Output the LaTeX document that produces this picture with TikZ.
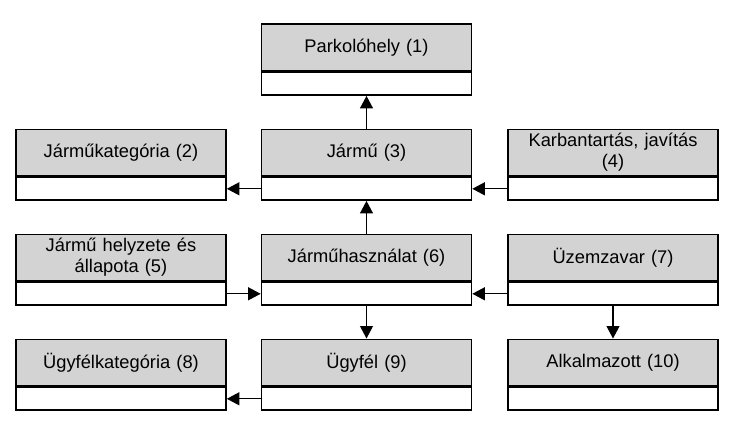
\documentclass[tikz,border=0pt]{standalone}
\usepackage{fontspec}
\setmainfont{Liberation Sans}
\usetikzlibrary{arrows.meta}
\definecolor{hdrgray}{RGB}{211,211,211}
\tikzset{
  hdr/.style={draw=black, line width=1.7pt, fill=hdrgray, minimum width=210pt, minimum height=46.5pt,
    inner sep=0pt, align=center, font=\fontsize{18.3}{21}\selectfont, text width=200pt},
  body/.style={draw=black, line width=1.7pt, fill=white, minimum width=210pt, minimum height=22.5pt, inner sep=0pt},
  conn/.style={draw=black, line width=1.1pt, -{Triangle[length=12.5pt,width=13pt]}}
}
\newcommand{\ent}[4]{%
  \node[hdr, anchor=north] (#1) at (#2,#3) {#4};
  \node[body, anchor=north] (#1b) at (#1.south) {};
}
\begin{document}
\begin{tikzpicture}[x=1pt,y=-1pt]
\useasboundingbox (0,0) rectangle (745,428);
\ent{p1}{366.5}{23.5}{Parkolóhely (1)}
\ent{l2}{121}{128.5}{Járműkategória (2)}
\ent{m3}{366.5}{128.5}{Jármű (3)}
\ent{r4}{613}{128.5}{Karbantartás, javítás\\(4)}
\ent{l5}{121}{233.5}{Jármű helyzete és\\állapota (5)}
\ent{m6}{366.5}{233.5}{Járműhasználat (6)}
\ent{r7}{613}{233.5}{Üzemzavar (7)}
\ent{l8}{121}{338.5}{Ügyfélkategória (8)}
\ent{m9}{366.5}{338.5}{Ügyfél (9)}
\ent{r10}{613}{338.5}{Alkalmazott (10)}
\draw[conn] (m3.north) -- (p1b.south);
\draw[conn] (m6.north) -- (m3b.south);
\draw[conn] (m6b.south) -- (m9.north);
\draw[conn] (r7b.south) -- (r10.north);
\draw[conn] (m3b.west) -- (l2b.east);
\draw[conn] (r4b.west) -- (m3b.east);
\draw[conn] (l5b.east) -- (m6b.west);
\draw[conn] (r7b.west) -- (m6b.east);
\draw[conn] (m9b.west) -- (l8b.east);
\end{tikzpicture}
\end{document}
